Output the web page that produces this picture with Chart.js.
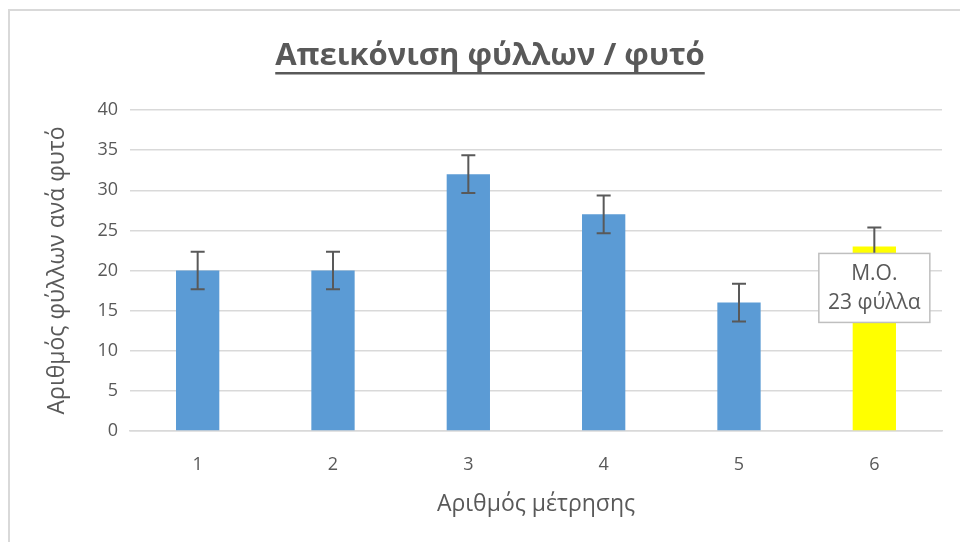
<!DOCTYPE html>
<html>
<head>
<meta charset="utf-8">
<style>
  html, body { margin: 0; padding: 0; background: #fff; }
  #wrap { width: 960px; height: 542px; }
</style>
<script src="https://cdn.jsdelivr.net/npm/chart.js@4"></script>
</head>
<body>
<div id="wrap"><canvas id="barChart" width="960" height="542"></canvas></div>
<script>
const categories = ["1", "2", "3", "4", "5", "6"];
const leaves = [20, 20, 32, 27, 16, 23];
const errors = [2.35, 2.35, 2.35, 2.35, 2.35, 2.35];
const barColors = ["#5B9BD5", "#5B9BD5", "#5B9BD5", "#5B9BD5", "#5B9BD5", "#FFFF00"];
const meanLabel = ["Μ.Ο.", "23 φύλλα"];
const titleText = "Απεικόνιση φύλλων / φυτό";

const grey = "#595959";
const font = "'Open Sans', 'Noto Sans', sans-serif";

// frame + title + error bars + mean callout
const decor = {
    id: "decor",
    beforeDraw(chart) {
        const c = chart.ctx;
        c.save();
        c.strokeStyle = "#d9d9d9";
        c.lineWidth = 2;
        c.strokeRect(9, 10, 1000, 1000);
        c.restore();
    },
    afterDatasetsDraw(chart) {
        const c = chart.ctx;
        const x = chart.scales.x, y = chart.scales.y;
        c.save();
        c.strokeStyle = grey;
        c.lineWidth = 2;
        leaves.forEach((v, i) => {
            const px = x.getPixelForValue(i);
            const top = y.getPixelForValue(v + errors[i]);
            const bot = y.getPixelForValue(v - errors[i]);
            c.beginPath();
            c.moveTo(px, top); c.lineTo(px, bot);
            c.moveTo(px - 7, top); c.lineTo(px + 7, top);
            c.moveTo(px - 7, bot); c.lineTo(px + 7, bot);
            c.stroke();
        });

        // callout on the last bar
        const last = leaves.length - 1;
        const bx = x.getPixelForValue(last);
        const by = y.getPixelForValue(leaves[last]) + 7;
        const w = 111, h = 69;
        c.fillStyle = "#fff";
        c.fillRect(bx - w / 2, by, w, h);
        c.strokeStyle = "#bfbfbf";
        c.lineWidth = 1.5;
        c.strokeRect(bx - w / 2, by, w, h);
        c.fillStyle = grey;
        c.font = "21px " + font;
        c.textAlign = "center";
        c.textBaseline = "middle";
        c.fillText(meanLabel[0], bx, by + 21);
        c.fillText(meanLabel[1], bx, by + 50);

        // title (underlined)
        c.font = "bold 31px " + font;
        const tx = 490, ty = 56;
        c.fillText(titleText, tx, ty);
        const tw = c.measureText(titleText).width;
        c.fillRect(tx - tw / 2, ty + 16, tw, 2.5);
        c.restore();
    }
};

new Chart(document.getElementById("barChart"), {
    type: "bar",
    data: {
        labels: categories,
        datasets: [{
            data: leaves,
            backgroundColor: barColors,
            barPercentage: 0.32,
            categoryPercentage: 1
        }]
    },
    options: {
        responsive: false,
        animation: false,
        layout: { padding: { top: 110, right: 18, bottom: 20, left: 0 } },
        plugins: {
            legend: { display: false },
            tooltip: { enabled: false }
        },
        scales: {
            x: {
                afterFit: (s) => { s.height = 91; },
                grid: { display: false },
                border: { display: true, color: "#d9d9d9", width: 1.5 },
                ticks: { color: grey, font: { family: font, size: 18 }, padding: 15 },
                title: {
                    display: true,
                    text: "Αριθμός μέτρησης",
                    color: grey,
                    font: { family: font, size: 23 },
                    padding: { top: 0, bottom: 4 }
                }
            },
            y: {
                min: 0,
                max: 40,
                afterFit: (s) => { s.width = 130; },
                grid: { color: "#d9d9d9", lineWidth: 1.5, drawTicks: false },
                border: { display: false },
                ticks: { stepSize: 5, color: grey, font: { family: font, size: 18 }, padding: 12 },
                title: {
                    display: true,
                    text: "Αριθμός φύλλων ανά φυτό",
                    color: grey,
                    font: { family: font, size: 23 },
                    padding: { top: 44, bottom: 0 }
                }
            }
        }
    },
    plugins: [decor]
});
</script>
</body>
</html>
